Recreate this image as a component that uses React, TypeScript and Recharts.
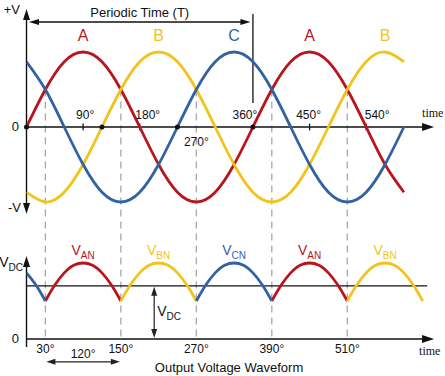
import React from "react";
import { ComposedChart, Line, XAxis, YAxis, ReferenceLine, ReferenceDot } from "recharts";

const RED = "#b9151f";
const YELLOW = "#f2c31c";
const BLUE = "#3262a0";
const INK = "#111";
const SANS = "'Liberation Sans', Arial, sans-serif";
const SERIF = "'Liberation Serif', 'Times New Roman', serif";

// supply phases, read every 30°
const PHASE_DEG = [0, 30, 60, 90, 120, 150, 180, 210, 240, 270, 300, 330, 360, 390, 420, 450, 480, 510, 540, 570, 600];
const PHASE_A = [0, 0.5, 0.87, 1, 0.87, 0.5, 0, -0.5, -0.87, -1, -0.87, -0.5, 0, 0.5, 0.87, 1, 0.87, 0.5, 0, -0.5, -0.87];
const PHASE_B = [-0.87, -1, -0.87, -0.5, 0, 0.5, 0.87, 1, 0.87, 0.5, 0, -0.5, -0.87, -1, -0.87, -0.5, 0, 0.5, 0.87, 1, 0.87];
const PHASE_C = [0.87, 0.5, 0, -0.5, -0.87, -1, -0.87, -0.5, 0, 0.5, 0.87, 1, 0.87, 0.5, 0, -0.5, -0.87, -1, -0.87, -0.5, 0];

// rectified output, read every 15°
const n = null;
const OUT_DEG = [0, 15, 30, 45, 60, 75, 90, 105, 120, 135, 150, 165, 180, 195, 210, 225, 240, 255, 270, 285, 300, 315, 330, 345, 360, 375, 390, 405, 420, 435, 450, 465, 480, 495, 510, 525, 540, 555, 570, 585, 600, 615, 630];
const OUT_AN = [n, n, 0.5, 0.71, 0.87, 0.97, 1, 0.97, 0.87, 0.71, 0.5, n, n, n, n, n, n, n, n, n, n, n, n, n, n, n, 0.5, 0.71, 0.87, 0.97, 1, 0.97, 0.87, 0.71, 0.5, n, n, n, n, n, n, n, n];
const OUT_BN = [n, n, n, n, n, n, n, n, n, n, 0.5, 0.71, 0.87, 0.97, 1, 0.97, 0.87, 0.71, 0.5, n, n, n, n, n, n, n, n, n, n, n, n, n, n, n, 0.5, 0.71, 0.87, 0.97, 1, 0.97, 0.87, 0.71, 0.5];
const OUT_CN = [0.87, 0.71, 0.5, n, n, n, n, n, n, n, n, n, n, n, n, n, n, n, 0.5, 0.71, 0.87, 0.97, 1, 0.97, 0.87, 0.71, 0.5, n, n, n, n, n, n, n, n, n, n, n, n, n, n, n, n];

const PEAK_DEG = [90, 210, 330, 450, 570];
const PHASE_NAMES = ["A", "B", "C", "A", "B"];
const OUT_NAMES = ["AN", "BN", "CN", "AN", "BN"];
const PEAK_COLORS = [RED, YELLOW, BLUE, RED, YELLOW];

const TOP_ANGLES = ["90°", "180°", "270°", "360°", "450°", "540°"];
const TOP_ANGLE_DEG = [90, 180, 270, 360, 450, 540];
const TICK_DEG = [90, 180, 450, 540];
const DOT_DEG = [0, 120, 240, 360];
const SWITCH_DEG = [30, 150, 270, 390, 510];
const SWITCH_LABELS = ["30°", "150°", "270°", "390°", "510°"];
const VDC_LEVEL = 0.7;
const PERIOD_DEG = 360;

// layout
const W = 445;
const H = 376;
const X_DOMAIN = [0, 660];
const LEFT = 26.5;
const RIGHT = W - (LEFT + 660 * 0.629);
const TOP_DOMAIN = [-3.32, 1.6933];
const BOT_DOMAIN = [-0.4868, 4.4605];
const AXIS_END = 648;
const TOP_LABEL_OFFSET: Record<number, [number, number]> = {
  90: [2, -8], 180: [8, -8], 270: [0, 19], 360: [-8, -8], 450: [-1, -8], 540: [11, -8],
};

const rows = (xs: number[], ys: (number | null)[]) => xs.map((deg, i) => ({ deg, v: ys[i] }));

function head(tx: number, ty: number, fx: number, fy: number, len: number, half: number, color: string) {
  const d = Math.hypot(tx - fx, ty - fy) || 1;
  const ux = (tx - fx) / d;
  const uy = (ty - fy) / d;
  const bx = tx - ux * len;
  const by = ty - uy * len;
  return (
    <polygon
      points={`${tx},${ty} ${bx - uy * half},${by + ux * half} ${bx + uy * half},${by - ux * half}`}
      fill={color}
    />
  );
}

const arrow =
  (o: { start?: boolean; end?: boolean; color?: string; width?: number; len?: number; half?: number; inset?: number }) =>
  (p: any) => {
    const color = o.color ?? INK;
    const len = o.len ?? 11;
    const half = o.half ?? 3.5;
    const inset = o.inset ?? 0;
    const d = Math.hypot(p.x2 - p.x1, p.y2 - p.y1) || 1;
    const ux = (p.x2 - p.x1) / d;
    const uy = (p.y2 - p.y1) / d;
    const sx = p.x1 + ux * inset;
    const sy = p.y1 + uy * inset;
    const ex = p.x2 - ux * inset;
    const ey = p.y2 - uy * inset;
    return (
      <g>
        <line
          x1={o.start ? sx + ux * (len - 1) : p.x1}
          y1={o.start ? sy + uy * (len - 1) : p.y1}
          x2={o.end ? ex - ux * (len - 1) : p.x2}
          y2={o.end ? ey - uy * (len - 1) : p.y2}
          stroke={color}
          strokeWidth={o.width ?? 1.4}
        />
        {o.start && head(sx, sy, ex, ey, len, half, color)}
        {o.end && head(ex, ey, sx, sy, len, half, color)}
      </g>
    );
  };

const tag =
  (content: React.ReactNode, dx: number, dy: number, size = 12, color = INK, anchor = "middle", family = SANS) =>
  (p: any) => (
    <text x={p.cx + dx} y={p.cy + dy} textAnchor={anchor} fontSize={size} fill={color} fontFamily={family}>
      {content}
    </text>
  );

const sub = (main: string, small: string) => [
  <tspan key="m">{main}</tspan>,
  <tspan key="s" fontSize={10} dy={4}>
    {small}
  </tspan>,
];

export default function App() {
  const phaseA = rows(PHASE_DEG, PHASE_A);
  const phaseB = rows(PHASE_DEG, PHASE_B);
  const phaseC = rows(PHASE_DEG, PHASE_C);
  const outA = rows(OUT_DEG, OUT_AN);
  const outB = rows(OUT_DEG, OUT_BN);
  const outC = rows(OUT_DEG, OUT_CN);

  const curve = (data: any[], color: string, axis: string, key: string, type: any) => (
    <Line
      key={key}
      data={data}
      yAxisId={axis}
      dataKey="v"
      type={type}
      stroke={color}
      strokeWidth={2.8}
      dot={false}
      activeDot={false}
      connectNulls={false}
      isAnimationActive={false}
    />
  );

  return (
    <div style={{ position: "absolute", left: 0, top: 0, width: W, height: H, background: "#fff" }}>
      <ComposedChart width={W} height={H} margin={{ top: 0, right: RIGHT, bottom: 0, left: LEFT }}>
        <XAxis dataKey="deg" type="number" domain={X_DOMAIN} allowDataOverflow hide height={0} />
        <YAxis yAxisId="top" type="number" domain={TOP_DOMAIN} allowDataOverflow hide width={0} />
        <YAxis yAxisId="bot" type="number" domain={BOT_DOMAIN} allowDataOverflow hide width={0} />

        {/* switching instants */}
        {SWITCH_DEG.map((d) => (
          <ReferenceLine
            key={`sw${d}`}
            yAxisId="top"
            ifOverflow="visible"
            segment={[{ x: d, y: 0.5 }, { x: d, y: -2.827 }]}
            stroke="#a8a8a8"
            strokeWidth={1.3}
            strokeDasharray="7 5"
          />
        ))}

        {/* axes */}
        <ReferenceLine yAxisId="top" ifOverflow="visible" segment={[{ x: 0, y: 1.573 }, { x: 0, y: -1.16 }]} shape={arrow({ start: true, end: true })} />
        <ReferenceLine yAxisId="top" ifOverflow="visible" segment={[{ x: 0, y: 0 }, { x: AXIS_END, y: 0 }]} shape={arrow({ end: true, len: 12, half: 4 })} />
        <ReferenceLine yAxisId="bot" ifOverflow="visible" segment={[{ x: 0, y: -0.105 }, { x: 0, y: 1.092 }]} shape={arrow({ end: true })} />
        <ReferenceLine yAxisId="bot" ifOverflow="visible" segment={[{ x: 0, y: 0 }, { x: AXIS_END, y: 0 }]} shape={arrow({ end: true, len: 12, half: 4 })} />
        <ReferenceLine yAxisId="bot" ifOverflow="visible" segment={[{ x: 0, y: VDC_LEVEL }, { x: 637, y: VDC_LEVEL }]} stroke={INK} strokeWidth={1.2} />

        {TICK_DEG.map((d) => (
          <ReferenceLine key={`t${d}`} yAxisId="top" ifOverflow="visible" segment={[{ x: d, y: 0.045 }, { x: d, y: -0.045 }]} stroke={INK} strokeWidth={1.3} />
        ))}

        {/* periodic time */}
        <ReferenceLine yAxisId="top" ifOverflow="visible" segment={[{ x: 0, y: 1.4 }, { x: PERIOD_DEG, y: 1.4 }]} shape={arrow({ start: true, end: true, inset: 2.5, len: 10, half: 3, width: 1.3 })} />
        <ReferenceLine yAxisId="top" ifOverflow="visible" segment={[{ x: PERIOD_DEG, y: 1.507 }, { x: PERIOD_DEG, y: 0.32 }]} stroke={INK} strokeWidth={1.3} />
        <ReferenceDot yAxisId="top" ifOverflow="visible" x={180} y={1.4} r={0} shape={tag("Periodic Time (T)", 0, -5, 13)} />

        {/* dimension arrows */}
        <ReferenceLine yAxisId="bot" ifOverflow="visible" segment={[{ x: 203, y: VDC_LEVEL }, { x: 203, y: 0 }]} shape={arrow({ start: true, end: true, inset: 1, len: 9, half: 3, width: 1.2, color: "#222" })} />
        <ReferenceLine yAxisId="bot" ifOverflow="visible" segment={[{ x: 30, y: -0.3 }, { x: 150, y: -0.3 }]} shape={arrow({ start: true, end: true, inset: 1, len: 9, half: 3, width: 1.2, color: "#222" })} />

        {curve(phaseA, RED, "top", "pa", "natural")}
        {curve(phaseB, YELLOW, "top", "pb", "natural")}
        {curve(phaseC, BLUE, "top", "pc", "natural")}
        {curve(outA, RED, "bot", "oa", "monotone")}
        {curve(outB, YELLOW, "bot", "ob", "monotone")}
        {curve(outC, BLUE, "bot", "oc", "monotone")}

        {DOT_DEG.map((d) => (
          <ReferenceDot key={`d${d}`} yAxisId="top" ifOverflow="visible" x={d} y={0} r={2.5} fill={INK} stroke="none" />
        ))}

        {/* axis text */}
        <ReferenceDot yAxisId="top" ifOverflow="visible" x={0} y={1.573} r={0} shape={tag("+V", -6.5, 5, 13, INK, "end")} />
        <ReferenceDot yAxisId="top" ifOverflow="visible" x={0} y={0} r={0} shape={tag("0", -7.5, 4.5, 13, INK, "end")} />
        <ReferenceDot yAxisId="top" ifOverflow="visible" x={0} y={-1} r={0} shape={tag("-V", -5.5, 10, 13, INK, "end")} />
        <ReferenceDot yAxisId="top" ifOverflow="visible" x={AXIS_END} y={0} r={0} shape={tag("time", -12, -10, 12, INK, "start", SERIF)} />
        <ReferenceDot yAxisId="bot" ifOverflow="visible" x={0} y={1} r={0} shape={tag(sub("V", "DC"), -3.5, 4, 14, INK, "end")} />
        <ReferenceDot yAxisId="bot" ifOverflow="visible" x={0} y={0} r={0} shape={tag("0", -7.5, 3.5, 13, INK, "end")} />
        <ReferenceDot yAxisId="bot" ifOverflow="visible" x={AXIS_END} y={0} r={0} shape={tag("time", -15, 16, 12, INK, "start", SERIF)} />

        {TOP_ANGLE_DEG.map((d, i) => (
          <ReferenceDot key={`ta${d}`} yAxisId="top" ifOverflow="visible" x={d} y={0} r={0} shape={tag(TOP_ANGLES[i], TOP_LABEL_OFFSET[d][0], TOP_LABEL_OFFSET[d][1], 12)} />
        ))}
        {SWITCH_DEG.map((d, i) => (
          <ReferenceDot key={`ba${d}`} yAxisId="bot" ifOverflow="visible" x={d} y={0} r={0} shape={tag(SWITCH_LABELS[i], 0, 14, 12)} />
        ))}
        <ReferenceDot yAxisId="bot" ifOverflow="visible" x={90} y={0} r={0} shape={tag("120°", 0, 19, 12)} />
        <ReferenceDot yAxisId="bot" ifOverflow="visible" x={203} y={0} r={0} shape={tag(sub("V", "DC"), 3, -23, 14, INK, "start")} />
        <ReferenceDot yAxisId="bot" ifOverflow="visible" x={322} y={0} r={0} shape={tag("Output Voltage Waveform", 0, 33, 13)} />

        {PEAK_DEG.map((d, i) => (
          <ReferenceDot key={`pn${i}`} yAxisId="top" ifOverflow="visible" x={d} y={1} r={0} shape={tag(PHASE_NAMES[i], 0, -11, 16, PEAK_COLORS[i])} />
        ))}
        {PEAK_DEG.map((d, i) => (
          <ReferenceDot key={`on${i}`} yAxisId="bot" ifOverflow="visible" x={d} y={1} r={0} shape={tag(sub("V", OUT_NAMES[i]), 0, -8, 14, PEAK_COLORS[i])} />
        ))}
      </ComposedChart>
    </div>
  );
}
